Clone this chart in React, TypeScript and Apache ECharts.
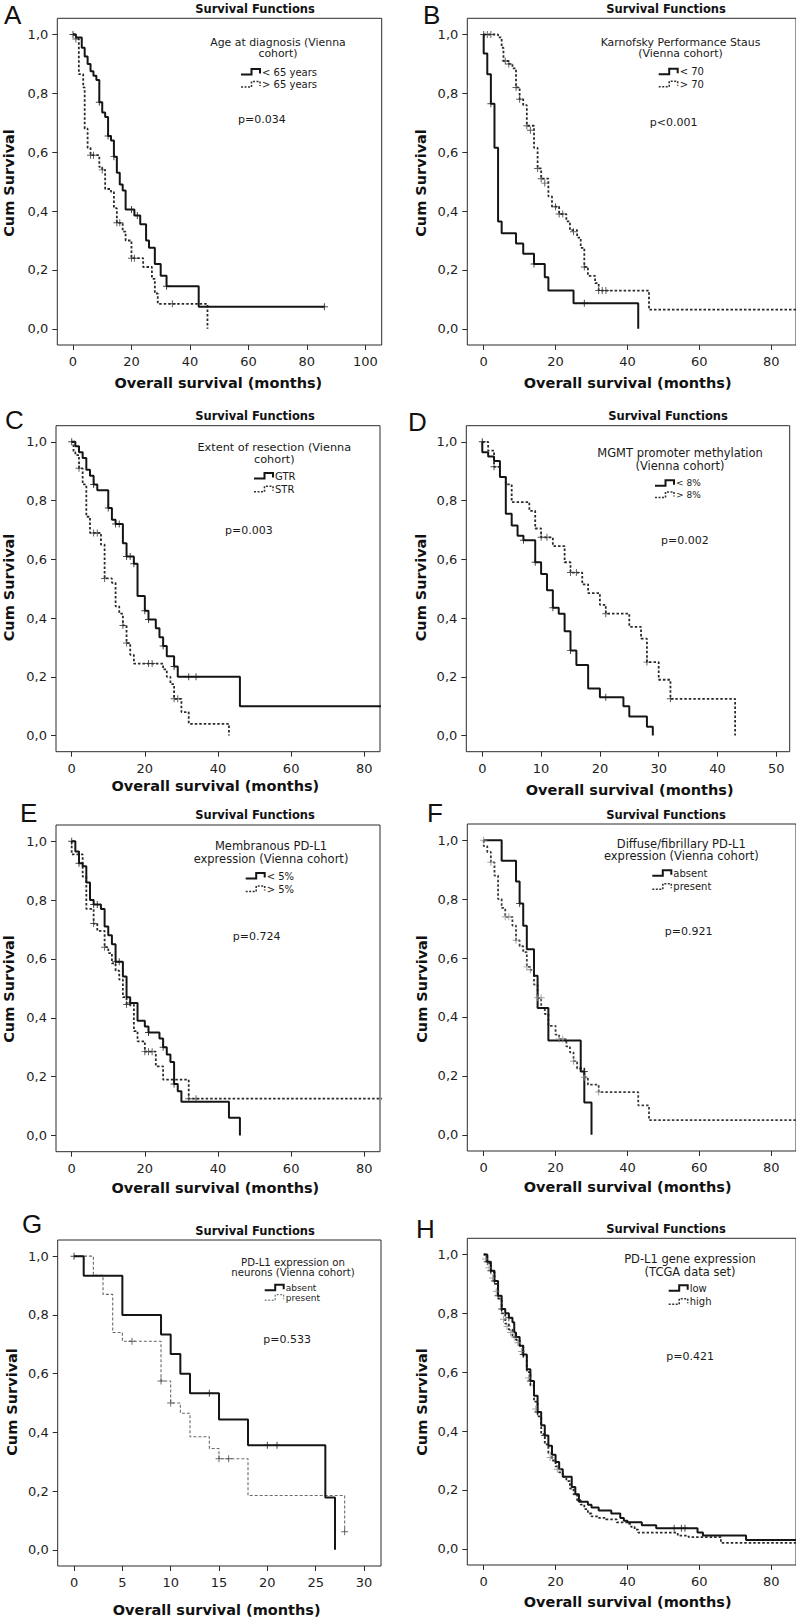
import React, { useEffect, useRef } from "react";
import * as echarts from "echarts";

// ---------- DATA (months, cumulative survival) ----------
const aYoung = [[0,1],[1,0.99],[3,0.955],[4,0.925],[5,0.9],[6,0.875],[7,0.86],[8,0.845],[9,0.77],[10,0.735],[11,0.72],[12,0.655],[13,0.64],[14,0.585],[15,0.53],[16,0.49],[17,0.47],[18,0.405],[21,0.385],[23,0.355],[25,0.3],[26,0.275],[28,0.22],[30,0.18],[32,0.145],[43,0.075],[86,0.075]];
const aOld = [[0,1],[1,0.985],[2,0.865],[3.5,0.82],[4,0.68],[5,0.615],[6,0.59],[9,0.55],[10,0.54],[11,0.475],[13,0.465],[14,0.41],[15,0.36],[17,0.33],[18,0.3],[20,0.24],[24,0.21],[27,0.17],[28,0.12],[29,0.085],[46,0]];
const aYoungCens = [[0,1],[9,0.77],[12,0.655],[14,0.585],[20,0.405],[22,0.385],[32,0.145],[86,0.075]];
const aOldCens = [[1,0.985],[6,0.59],[7,0.59],[10,0.54],[15,0.36],[16,0.36],[20,0.24],[21,0.24],[34,0.085]];

const bLow = [[0,1],[0,0.935],[1,0.865],[2,0.765],[3,0.615],[4,0.365],[5,0.325],[9,0.29],[11,0.255],[14,0.22],[17,0.175],[18,0.13],[25,0.087],[43,0]];
const bHigh = [[0,1],[4,0.99],[5,0.955],[5.5,0.91],[7,0.9],[8,0.885],[9,0.82],[10,0.78],[11,0.76],[12,0.69],[14,0.615],[15,0.545],[16,0.51],[18,0.45],[19,0.415],[21,0.39],[23,0.365],[24,0.335],[26,0.31],[27,0.275],[28,0.21],[29,0.18],[31,0.155],[32,0.13],[46,0.065],[95,0.065]];
const bLowCens = [[0,1],[2,0.765],[14,0.22],[28,0.087]];
const bHighCens = [[1,1],[2,1],[6,0.91],[7,0.9],[9,0.82],[10,0.78],[12,0.69],[13,0.675],[15,0.545],[16,0.51],[17,0.495],[20,0.415],[21,0.39],[22,0.39],[25,0.33],[28,0.21],[32,0.13],[33,0.13],[34,0.13]];

const cGTR = [[0,1],[1,0.985],[2,0.965],[3,0.945],[4,0.905],[5,0.885],[6,0.855],[7,0.835],[10,0.775],[11,0.735],[12,0.72],[14,0.655],[15,0.61],[17,0.585],[18,0.475],[20,0.425],[21,0.395],[23,0.365],[24,0.335],[25,0.305],[26,0.27],[28,0.235],[29,0.2],[46,0.1],[95,0.1]];
const cSTR = [[0,1],[0.5,0.965],[1,0.955],[2,0.91],[3,0.855],[4,0.745],[5,0.69],[8,0.65],[9,0.535],[11,0.52],[12,0.44],[13,0.415],[14,0.375],[15,0.315],[16,0.275],[17,0.245],[25,0.225],[26,0.2],[27,0.175],[28,0.125],[30,0.08],[32,0.04],[43,0]];
const cGTRCens = [[0,1],[6,0.855],[10,0.775],[12,0.72],[13,0.72],[15,0.61],[16,0.61],[17,0.585],[20,0.425],[21,0.395],[25,0.305],[28,0.235],[32,0.2],[34,0.2]];
const cSTRCens = [[2,0.91],[6,0.69],[7,0.69],[9,0.535],[14,0.375],[15,0.315],[21,0.245],[22,0.245],[28,0.125],[29,0.125]];

const dLow = [[0,1],[0,0.965],[1,0.95],[2,0.935],[3,0.88],[4,0.755],[5,0.715],[6,0.68],[7,0.665],[9,0.59],[10,0.55],[11,0.495],[12,0.435],[13,0.415],[14,0.355],[15,0.29],[16,0.24],[18,0.16],[20,0.13],[24,0.1],[25,0.065],[28,0.03],[29,0]];
const dHigh = [[0,1],[1,0.97],[2,0.915],[3,0.88],[4,0.855],[5,0.795],[8,0.765],[9,0.705],[10,0.675],[12,0.645],[14,0.59],[15,0.555],[17,0.515],[18,0.485],[20,0.445],[21,0.415],[25,0.37],[27,0.33],[28,0.25],[30,0.19],[32,0.125],[43,0]];
const dLowCens = [[0,1],[7,0.665],[9,0.59],[12,0.435],[15,0.29],[21,0.13]];
const dHighCens = [[2,0.915],[10,0.675],[11,0.675],[15,0.555],[16,0.555],[21,0.415],[28,0.25],[32,0.125]];

const eLow = [[0,1],[1,0.965],[2,0.925],[3,0.915],[4,0.86],[5,0.8],[6,0.785],[8,0.77],[9,0.71],[10,0.68],[11,0.65],[12,0.59],[14,0.54],[15,0.47],[16,0.45],[18,0.39],[20,0.37],[21,0.35],[24,0.33],[25,0.3],[26,0.275],[27,0.25],[28,0.175],[29,0.15],[30,0.115],[43,0.06],[46,0]];
const eHigh = [[0,1],[0,0.955],[3,0.88],[4,0.77],[6,0.72],[7,0.695],[9,0.64],[10,0.62],[11,0.585],[12,0.56],[13,0.53],[14,0.47],[15,0.445],[17,0.355],[18,0.32],[20,0.285],[23,0.235],[25,0.19],[32,0.125],[95,0.125]];
const eLowCens = [[0,1],[2,0.925],[6,0.785],[7,0.785],[12,0.59],[13,0.59],[16,0.45],[21,0.35],[25,0.3],[28,0.175]];
const eHighCens = [[6,0.72],[9,0.64],[15,0.445],[20,0.285],[21,0.285],[22,0.285],[32,0.125],[34,0.125]];

const fAbsent = [[0,1],[5,0.93],[9,0.86],[10,0.785],[11,0.71],[12,0.63],[14,0.54],[15,0.43],[18,0.32],[27,0.215],[28,0.11],[30,0]];
const fPresent = [[0,1],[0,0.98],[1,0.96],[2,0.925],[3,0.88],[4,0.8],[5,0.77],[6,0.74],[8,0.71],[9,0.66],[10,0.64],[11,0.62],[12,0.57],[13,0.56],[14,0.51],[15,0.465],[16,0.43],[17,0.41],[18,0.37],[20,0.34],[21,0.325],[23,0.3],[24,0.28],[25,0.25],[26,0.225],[28,0.195],[29,0.17],[32,0.145],[43,0.1],[46,0.05],[95,0.05]];
const fAbsentCens = [[10,0.785],[28,0.215]];
const fPresentCens = [[0,1],[2,0.925],[6,0.74],[7,0.74],[9,0.66],[12,0.57],[13,0.56],[15,0.465],[16,0.465],[21,0.325],[22,0.325],[25,0.25],[28,0.195],[32,0.145]];

const gAbsent = [[0,1],[1,0.933],[5,0.8],[9,0.733],[10,0.667],[11,0.6],[12,0.533],[15,0.444],[18,0.356],[26,0.178],[27,0]];
const gPresent = [[0,1],[2,0.935],[3,0.87],[4,0.74],[5,0.71],[9,0.575],[10,0.5],[11,0.465],[12,0.385],[14,0.345],[15,0.31],[18,0.185],[28,0.062]];
const gAbsentCens = [[0,1],[14,0.533],[20,0.356],[21,0.356]];
const gPresentCens = [[6,0.71],[9,0.575],[10,0.5],[15,0.31],[16,0.31],[28,0.062]];

const hLow = [[0,1],[1,0.975],[2,0.945],[3,0.91],[4,0.86],[5,0.815],[6,0.8],[7,0.785],[8,0.77],[8.5,0.735],[9,0.72],[10,0.69],[11,0.66],[12,0.61],[13,0.57],[14,0.52],[15,0.465],[16,0.42],[17,0.385],[18,0.35],[19,0.32],[20,0.295],[21,0.27],[22,0.245],[24.5,0.21],[25.5,0.185],[26.5,0.16],[29,0.15],[30,0.14],[32,0.13],[35.5,0.12],[38,0.105],[39,0.095],[40,0.09],[44,0.08],[48,0.07],[59.5,0.055],[61,0.045],[73,0.03],[95,0.03]];
const hHigh = [[0,1],[1,0.97],[2,0.94],[3,0.9],[4,0.85],[5,0.8],[6,0.765],[7,0.745],[8,0.725],[9,0.71],[10,0.69],[11,0.655],[12,0.6],[13,0.555],[14,0.5],[15,0.45],[16,0.39],[17,0.355],[18,0.325],[19,0.3],[20,0.28],[21,0.26],[22,0.245],[23,0.23],[24,0.205],[25,0.185],[26,0.165],[27,0.15],[28,0.135],[29,0.12],[30,0.11],[32,0.105],[34,0.1],[37,0.09],[40,0.085],[41,0.075],[42,0.065],[43,0.055],[54,0.045],[57,0.04],[66,0.02],[95,0.02]];
const hLowCens = [[1,0.975],[2,0.945],[3,0.91],[4,0.86],[5,0.815],[7,0.785],[9,0.72],[11,0.66],[13,0.57],[15,0.465],[17,0.385],[53,0.07],[55,0.07],[56,0.07]];
const hHighCens = [[0.5,0.985],[1.5,0.955],[2.5,0.92],[3.5,0.875],[5.5,0.78],[6.5,0.755],[7.5,0.735],[8.5,0.72],[9.5,0.7],[10.5,0.67],[12.5,0.58],[14.5,0.475],[18.5,0.31],[20.5,0.27]];

const yTicks = [0, 0.2, 0.4, 0.6, 0.8, 1.0];
const xTicks100 = [0, 20, 40, 60, 80, 100];
const xTicks80 = [0, 20, 40, 60, 80];
const xTicks50 = [0, 10, 20, 30, 40, 50];
const xTicks30 = [0, 5, 10, 15, 20, 25, 30];

const letters = ["A", "B", "C", "D", "E", "F", "G", "H"];
const legendTitles = [
  ["Age at diagnosis (Vienna", "cohort)"],
  ["Karnofsky Performance Staus", "(Vienna cohort)"],
  ["Extent of resection (Vienna", "cohort)"],
  ["MGMT promoter methylation", "(Vienna cohort)"],
  ["Membranous PD-L1", "expression (Vienna cohort)"],
  ["Diffuse/fibrillary PD-L1", "expression (Vienna cohort)"],
  ["PD-L1 expression on", "neurons (Vienna cohort)"],
  ["PD-L1 gene expression", "(TCGA data set)"],
];
const legendItems = [
  ["< 65 years", "> 65 years"],
  ["< 70", "> 70"],
  ["GTR", "STR"],
  ["< 8%", "> 8%"],
  ["< 5%", "> 5%"],
  ["absent", "present"],
  ["absent", "present"],
  ["low", "high"],
];
const pValues = ["p=0.034", "p<0.001", "p=0.003", "p=0.002", "p=0.724", "p=0.921", "p=0.533", "p=0.421"];

const solidSets = [aYoung, bLow, cGTR, dLow, eLow, fAbsent, gAbsent, hLow];
const dottedSets = [aOld, bHigh, cSTR, dHigh, eHigh, fPresent, gPresent, hHigh];
const solidCensSets = [aYoungCens, bLowCens, cGTRCens, dLowCens, eLowCens, fAbsentCens, gAbsentCens, hLowCens];
const dottedCensSets = [aOldCens, bHighCens, cSTRCens, dHighCens, eHighCens, fPresentCens, gPresentCens, hHighCens];
const xTickSets = [xTicks100, xTicks80, xTicks80, xTicks50, xTicks80, xTicks80, xTicks30, xTicks80];

// ---------- LAYOUT ----------
const layout = [
  { grid: { left: 57.3, top: 18.3, width: 324.4, height: 326.7 }, xMin: -5.37, xMax: 105.6, letter: [4, 14.5], title: [255, 8.5], yTitle: [9.2, 183], xTitle: [218.3, 383], leg: { tx: 278, ty: 48, lh: 11.2, ix: 262, iy1: 72, iy2: 84.5, tf: 10.9, if: 10 }, p: [238, 119] },
  { grid: { left: 467.3, top: 18.3, width: 335, height: 326.7 }, xMin: -4.56, xMax: 86.9, letter: [423, 14.5], title: [666, 9], yTitle: [420.5, 183], xTitle: [627.7, 383], leg: { tx: 680.5, ty: 48, lh: 11.2, ix: 679.7, iy1: 71.7, iy2: 84.3, tf: 10.9, if: 10 }, p: [649.7, 122.3] },
  { grid: { left: 56, top: 425.7, width: 324, height: 326 }, xMin: -4.29, xMax: 84.3, letter: [5, 419.5], title: [255, 415.7], yTitle: [9.2, 587.5], xTitle: [215.3, 786], leg: { tx: 274.3, ty: 453.3, lh: 11.4, ix: 275, iy1: 476, iy2: 489.3, tf: 11.3, if: 10 }, p: [225, 530.7] },
  { grid: { left: 466.3, top: 425.7, width: 323.4, height: 326 }, xMin: -2.72, xMax: 52.28, letter: [408, 421.5], title: [668, 415.7], yTitle: [420.5, 587.5], xTitle: [629.7, 790], leg: { tx: 680, ty: 459.6, lh: 12.7, ix: 676, iy1: 483.3, iy2: 495, tf: 11.5, if: 9 }, p: [661, 540] },
  { grid: { left: 56, top: 825, width: 324, height: 326.7 }, xMin: -4.29, xMax: 84.3, letter: [20, 813], title: [255, 815], yTitle: [9.2, 989], xTitle: [215.3, 1188], leg: { tx: 271, ty: 852.5, lh: 13, ix: 266.7, iy1: 876, iy2: 889, tf: 11.5, if: 10 }, p: [232.7, 936] },
  { grid: { left: 467.3, top: 824, width: 335, height: 327 }, xMin: -4.56, xMax: 86.9, letter: [427, 813], title: [666, 815], yTitle: [422, 989], xTitle: [627.7, 1186.5], leg: { tx: 681.3, ty: 850.2, lh: 11.7, ix: 673.3, iy1: 873.3, iy2: 886.7, tf: 11.5, if: 10 }, p: [664.7, 931.7] },
  { grid: { left: 57.7, top: 1240, width: 323.3, height: 326 }, xMin: -1.69, xMax: 31.76, letter: [22, 1223.5], title: [255, 1231], yTitle: [11.7, 1402], xTitle: [216.7, 1610], leg: { tx: 293, ty: 1267.7, lh: 10.3, ix: 285.7, iy1: 1287.7, iy2: 1297.7, tf: 10.2, if: 9 }, p: [263.3, 1339.3] },
  { grid: { left: 467.3, top: 1238.3, width: 335, height: 326.7 }, xMin: -4.56, xMax: 86.9, letter: [416, 1228.5], title: [666, 1229], yTitle: [422, 1402], xTitle: [627.7, 1601.5], leg: { tx: 690, ty: 1265.5, lh: 12.4, ix: 689.7, iy1: 1288.3, iy2: 1301.7, tf: 11.5, if: 10 }, p: [666.3, 1356.7] },
];

const FONT = "DejaVu Sans";
const INK = "#151515";
const PLUS = "path://M4.3,0h1.4v4.3h4.3v1.4h-4.3v4.3h-1.4v-4.3h-4.3v-1.4h4.3z";

function dottedStyle(i: number) {
  if (i === 6) return { color: "#6a6a6a", width: 1.1, type: [3, 2] as any };
  if (i === 5) return { color: "#3a3a3a", width: 1.8, type: [2.5, 2] as any };
  return { color: "#2a2a2a", width: 1.8, type: [2.5, 2] as any };
}

function buildOption() {
  const grid: any[] = [];
  const xAxis: any[] = [];
  const yAxis: any[] = [];
  const series: any[] = [];
  const graphic: any[] = [];

  layout.forEach((L, i) => {
    grid.push({ ...L.grid, show: true, borderColor: "#2b2b2b", borderWidth: 1, backgroundColor: "#fff", containLabel: false });
    const ticks = xTickSets[i];
    xAxis.push({
      gridIndex: i, type: "value", min: L.xMin, max: L.xMax, position: "bottom",
      axisLine: { show: false, onZero: false },
      splitLine: { show: false },
      axisTick: { show: true, customValues: ticks, length: 5, inside: false, lineStyle: { color: "#2b2b2b", width: 1 } },
      axisLabel: { customValues: ticks, margin: 10, fontSize: 13, fontFamily: FONT, color: "#1e1e1e" },
    });
    yAxis.push({
      gridIndex: i, type: "value", min: -0.055, max: 1.055, position: "left",
      axisLine: { show: false, onZero: false },
      splitLine: { show: false },
      axisTick: { show: true, customValues: yTicks, length: 5, inside: false, lineStyle: { color: "#2b2b2b", width: 1 } },
      axisLabel: { customValues: yTicks, margin: 9, fontSize: 13, fontFamily: FONT, color: "#1e1e1e", formatter: (v: number) => v.toFixed(1).replace(".", ",") },
    });
    const ds = dottedStyle(i);
    series.push({ type: "line", name: legendItems[i][1], xAxisIndex: i, yAxisIndex: i, data: dottedSets[i], step: "end", symbol: "none", silent: true, lineStyle: ds, z: 2 });
    series.push({ type: "line", name: legendItems[i][0], xAxisIndex: i, yAxisIndex: i, data: solidSets[i], step: "end", symbol: "none", silent: true, lineStyle: { color: INK, width: 2 }, z: 3 });
    const grayCens = i === 5 || i === 7;
    series.push({ type: "scatter", xAxisIndex: i, yAxisIndex: i, data: dottedCensSets[i], symbol: PLUS, symbolSize: 7, silent: true, itemStyle: { color: grayCens ? "#8c8c8c" : (i === 6 ? "#444" : "#333") }, z: 4 });
    series.push({ type: "scatter", xAxisIndex: i, yAxisIndex: i, data: solidCensSets[i], symbol: PLUS, symbolSize: 7, silent: true, itemStyle: { color: INK }, z: 5 });

    // panel letter
    graphic.push({ type: "text", x: L.letter[0], y: L.letter[1], silent: true, style: { text: letters[i], fontSize: 26, fontFamily: "Liberation Sans", fill: "#111", align: "left", verticalAlign: "middle" } });
    // title
    graphic.push({ type: "text", x: L.title[0], y: L.title[1], silent: true, style: { text: "Survival Functions", fontSize: 11.5, fontWeight: "bold", fontFamily: FONT, fill: "#111", align: "center", verticalAlign: "middle" } });
    // axis titles
    graphic.push({ type: "text", x: L.yTitle[0], y: L.yTitle[1], rotation: Math.PI / 2, silent: true, style: { text: "Cum Survival", fontSize: 14.5, fontWeight: "bold", fontFamily: FONT, fill: "#111", align: "center", verticalAlign: "middle" } });
    graphic.push({ type: "text", x: L.xTitle[0], y: L.xTitle[1], silent: true, style: { text: "Overall survival (months)", fontSize: 14.5, fontWeight: "bold", fontFamily: FONT, fill: "#111", align: "center", verticalAlign: "middle" } });
    // legend
    const lg = L.leg;
    graphic.push({ type: "text", x: lg.tx, y: lg.ty, silent: true, style: { text: legendTitles[i].join("\n"), fontSize: lg.tf, lineHeight: lg.lh, fontFamily: FONT, fill: "#1a1a1a", align: "center", verticalAlign: "middle" } });
    [lg.iy1, lg.iy2].forEach((iy, k) => {
      const x0 = lg.ix;
      const pts = [[x0 - 21, iy + 2.5], [x0 - 10.5, iy + 2.5], [x0 - 10.5, iy - 3], [x0 - 2, iy - 3], [x0 - 2, iy + 1.5]];
      graphic.push({
        type: "polyline", silent: true, shape: { points: pts },
        style: k === 0 ? { stroke: INK, lineWidth: 2, fill: null } : { stroke: i === 6 ? "#555" : "#333", lineWidth: i === 6 ? 1 : 1.6, lineDash: [2, 1.5], fill: null },
      });
      graphic.push({ type: "text", x: x0, y: iy, silent: true, style: { text: legendItems[i][k], fontSize: lg.if, fontFamily: FONT, fill: "#1a1a1a", align: "left", verticalAlign: "middle" } });
    });
    graphic.push({ type: "text", x: L.p[0], y: L.p[1], silent: true, style: { text: pValues[i], fontSize: 11, fontFamily: FONT, fill: "#1a1a1a", align: "left", verticalAlign: "middle" } });
  });

  return { animation: false, backgroundColor: "#fff", grid, xAxis, yAxis, series, graphic };
}

export default function App() {
  const ref = useRef<HTMLDivElement>(null);
  useEffect(() => {
    if (!ref.current) return;
    const chart = echarts.init(ref.current, undefined, { renderer: "svg" });
    chart.setOption(buildOption() as any);
    return () => chart.dispose();
  }, []);
  return <div ref={ref} style={{ position: "absolute", left: 0, top: 0, width: 796, height: 1619, background: "#fff" }} />;
}
